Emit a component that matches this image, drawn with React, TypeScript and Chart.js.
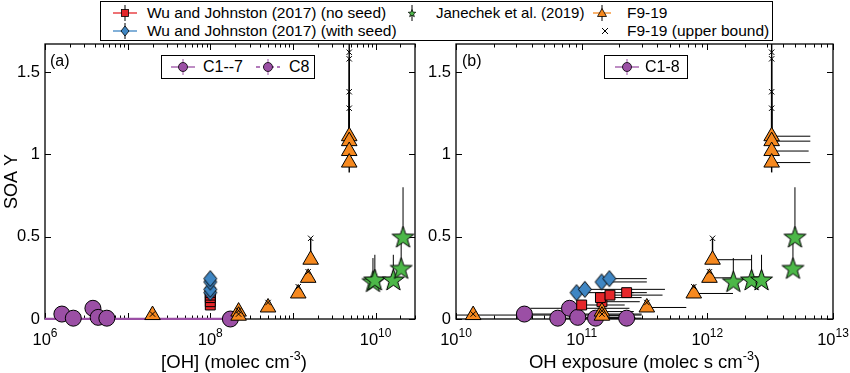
import React, { useEffect, useRef } from 'react';
import { Chart, registerables } from 'chart.js';
Chart.register(...registerables);

// ---------------- DATA ----------------
// Panel (a): x = [OH] (molec cm^-3); Panel (b): x = OH exposure (molec s cm^-3)
// C1-7 (purple circles)
const C17_OH = [1.6e6, 2.2e6, 3.8e6, 4.4e6, 5.6e6];
const C17_Y = [0.03, 0.005, 0.065, 0.01, 0.005];
const C17_YHI = [0.03, 0.005, 0.105, 0.01, 0.005];
// C8
const C8_OH = [1.75e8];
const C8_Y = [0];
const C8_OH_LO = [1e5];
// C1-8 in panel (b)
const C18_EXP = [3.5e10, 6.45e10, 8.0e10, 9.3e10, 1.29e11, 2.28e11];
const C18_Y = [0.03, 0.005, 0.065, 0.01, 0.005, 0.005];
const C18_EXP_LO = [3.5e10, 6.45e10, 3.9e10, 9.3e10, 1.29e11, 2.28e11];
const C18_EXP_HI = [3.0e11, 2.3e11, 2.4e11, 2.5e11, 2.7e11, 3.0e11];
// Wu and Johnston (2017) (no seed)
const WUNS_OH = [1e8, 1e8, 1e8, 1e8, 1e8];
const WUNS_EXP = [1.0e11, 1.45e11, 1.41e11, 1.68e11, 2.28e11];
const WUNS_Y = [0.085, 0.105, 0.13, 0.145, 0.16];
const WUNS_EXP_HI = [2.2e11, 2.9e11, 3.0e11, 4.4e11, 3.3e11];
// Wu and Johnston (2017) (with seed)
const WUS_OH = [1e8, 1e8, 1e8, 1e8];
const WUS_EXP = [9.1e10, 1.06e11, 1.44e11, 1.66e11];
const WUS_Y = [0.16, 0.18, 0.225, 0.245];
const WUS_EXP_HI = [2.6e11, 4.6e11, 3.3e11, 3.3e11];
// F9-19 (orange triangles) and upper bounds (x)
const F_OH = [2.0e7, 2.2e8, 2.2e8, 5.0e8, 1.16e9, 1.53e9, 1.64e9, 4.8e9, 4.8e9, 4.8e9, 4.8e9];
const F_EXP = [1.37e10, 1.45e11, 1.45e11, 3.3e11, 7.8e11, 1.04e12, 1.1e12, 3.25e12, 3.25e12, 3.25e12, 3.25e12];
const F_Y = [0.024, 0.045, 0.02, 0.07, 0.155, 0.25, 0.36, 1.11, 1.08, 1.02, 0.95];
const F_UB = [0.03, 0.05, 0.03, 0.1, 0.196, 0.287, 0.49, 1.62, 1.58, 1.38, 1.28];
const F_YLO = [0.024, 0.045, 0.02, 0.07, 0.155, 0.25, 0.36, 1.11, 1.08, 1.02, 0.89];
const F_YHI = [0.03, 0.05, 0.03, 0.1, 0.196, 0.287, 0.49, 1.8, 1.58, 1.38, 1.28];
const F_EXP_LO = [1.0e10, 1.45e11, 1.45e11, 3.3e11, 7.8e11, 1.04e12, 1.1e12, 3.25e12, 3.25e12, 3.25e12, 3.25e12];
const F_EXP_HI = [3.0e11, 2.6e11, 2.4e11, 6.8e11, 1.6e12, 1.55e12, 2.25e12, 6.6e12, 6.6e12, 6.4e12, 6.6e12];
// Janechek et al. (2019) (green stars)
const J_OH = [9.3e9, 9.8e9, 1.64e10, 2.04e10, 2.15e10];
const J_EXP = [1.61e12, 2.25e12, 2.7e12, 4.8e12, 4.98e12];
const J_Y = [0.23, 0.24, 0.24, 0.31, 0.5];
const J_YHI = [0.37, 0.39, 0.39, 0.5, 0.8];

// Axes
const Y_TICKS = [0, 0.5, 1, 1.5];
const Y_MAX = 1.67;
const XA_TICKS = [1e6, 1e8, 1e10];
const XA_EXPS = ['6', '8', '10'];
const XB_TICKS = [1e10, 1e11, 1e12, 1e13];
const XB_EXPS = ['10', '11', '12', '13'];

// ---------------- STYLE ----------------
const PURPLE = '#9B4FA5';
const RED = '#E5262A';
const BLUE = '#3F86C3';
const ORANGE = '#F6891F';
const GREEN = '#4CB748';
const FONT = '"Liberation Sans", Arial, Helvetica, sans-serif';

type Seg = { x0: number; y0: number; x1: number; y1: number; color: string; w: number };

function vBars(xs: number[], lo: number[], hi: number[], color = '#000', w = 1): Seg[] {
  return xs.map((x, i) => ({ x0: x, y0: lo[i], x1: x, y1: hi[i], color, w }));
}
function hBars(ys: number[], lo: number[], hi: number[], color = '#000', w = 1): Seg[] {
  return ys.map((y, i) => ({ x0: lo[i], y0: y, x1: hi[i], y1: y, color, w }));
}
function pts(xs: number[], ys: number[]) {
  return xs.map((x, i) => ({ x, y: ys[i] }));
}

function makeStar(fill: string, R: number) {
  const c = document.createElement('canvas');
  const s = Math.ceil(2 * R + 4);
  c.width = s; c.height = s;
  const g = c.getContext('2d')!;
  const cx = s / 2, cy = s / 2 + R * 0.1;
  g.beginPath();
  for (let i = 0; i < 10; i++) {
    const r = i % 2 === 0 ? R : R * 0.4;
    const a = -Math.PI / 2 + (i * Math.PI) / 5;
    g.lineTo(cx + r * Math.cos(a), cy + r * Math.sin(a));
  }
  g.closePath();
  g.fillStyle = fill; g.fill();
  g.lineWidth = 1; g.strokeStyle = '#000'; g.stroke();
  return c;
}
function makeDiamond(fill: string, w: number, h: number) {
  const c = document.createElement('canvas');
  c.width = w + 3; c.height = h + 3;
  const g = c.getContext('2d')!;
  const cx = c.width / 2, cy = c.height / 2;
  g.beginPath();
  g.moveTo(cx, cy - h / 2); g.lineTo(cx + w / 2, cy); g.lineTo(cx, cy + h / 2); g.lineTo(cx - w / 2, cy);
  g.closePath();
  g.fillStyle = fill; g.fill();
  g.lineWidth = 1; g.strokeStyle = '#000'; g.stroke();
  return c;
}

const framePlugin = {
  id: 'frameBars',
  beforeDatasetsDraw(chart: any) {
    const { ctx, chartArea: a, scales } = chart;
    const x = scales.x, y = scales.y;
    ctx.save();
    ctx.strokeStyle = '#000';
    ctx.lineWidth = 1.3;
    ctx.strokeRect(a.left, a.top, a.right - a.left, a.bottom - a.top);
    ctx.beginPath();
    ctx.lineWidth = 1;
    const e0 = Math.floor(Math.log10(x.min)), e1 = Math.ceil(Math.log10(x.max));
    for (let e = e0; e <= e1; e++) {
      for (let m = 1; m <= 9; m++) {
        const v = m * Math.pow(10, e);
        if (v < x.min * 0.999 || v > x.max * 1.001) continue;
        const px = Math.round(x.getPixelForValue(v)) + 0.5;
        const L = m === 1 ? 6 : 3.5;
        ctx.moveTo(px, a.bottom); ctx.lineTo(px, a.bottom - L);
        ctx.moveTo(px, a.top); ctx.lineTo(px, a.top + L);
      }
    }
    for (const v of Y_TICKS) {
      const py = Math.round(y.getPixelForValue(v)) + 0.5;
      ctx.moveTo(a.left, py); ctx.lineTo(a.left + 6, py);
      ctx.moveTo(a.right, py); ctx.lineTo(a.right - 6, py);
    }
    ctx.stroke();
    ctx.beginPath();
    ctx.rect(a.left, a.top, a.right - a.left, a.bottom - a.top + 1);
    ctx.clip();
    const dsets = chart.data.datasets;
    for (let d = dsets.length - 1; d >= 0; d--) {
      const segs: Seg[] = dsets[d].bars || [];
      for (const s of segs) {
        ctx.beginPath();
        ctx.strokeStyle = s.color;
        ctx.lineWidth = s.w;
        ctx.moveTo(x.getPixelForValue(s.x0), y.getPixelForValue(s.y0));
        ctx.lineTo(x.getPixelForValue(s.x1), y.getPixelForValue(s.y1));
        ctx.stroke();
      }
    }
    ctx.restore();
  },
  afterDraw(chart: any) {
    // power-of-ten tick labels with raised exponents
    const { ctx, chartArea: a, scales } = chart;
    const x = scales.x;
    const cfg = chart.options.plugins.supTicks;
    ctx.save();
    ctx.fillStyle = '#000';
    ctx.textBaseline = 'alphabetic';
    ctx.textAlign = 'left';
    cfg.values.forEach((v: number, i: number) => {
      const px = x.getPixelForValue(v);
      ctx.font = `16.5px ${FONT}`;
      const w1 = ctx.measureText('10').width;
      ctx.font = `12px ${FONT}`;
      const w2 = ctx.measureText(cfg.exps[i]).width;
      const left = px - (w1 + w2) / 2;
      ctx.font = `16.5px ${FONT}`;
      ctx.fillText('10', left, a.bottom + 26);
      ctx.font = `12px ${FONT}`;
      ctx.fillText(cfg.exps[i], left + w1, a.bottom + 18);
    });
    ctx.restore();
  },
};

function baseOptions(xMin: number, xMax: number, xTicks: number[], xExps: string[], yWidth: number, showYTitle: boolean, padRight: number) {
  return {
    responsive: false,
    animation: false as const,
    events: [] as any[],
    layout: { padding: { top: 44, right: padRight, left: 0, bottom: 0 } },
    plugins: { legend: { display: false }, tooltip: { enabled: false }, supTicks: { values: xTicks, exps: xExps } },
    scales: {
      x: {
        type: 'logarithmic' as const,
        min: xMin,
        max: xMax,
        bounds: 'data' as const,
        grid: { display: false, drawTicks: false },
        border: { display: false },
        afterBuildTicks: (s: any) => { s.ticks = xTicks.map((v) => ({ value: v })); },
        afterFit: (s: any) => { s.height = 54; },
        ticks: { display: false },
        title: { display: false },
      },
      y: {
        type: 'linear' as const,
        min: 0,
        max: Y_MAX,
        bounds: 'data' as const,
        grid: { display: false, drawTicks: false },
        border: { display: false },
        afterBuildTicks: (s: any) => { s.ticks = Y_TICKS.map((v) => ({ value: v })); },
        afterFit: (s: any) => { s.width = yWidth; },
        ticks: { padding: 5, color: '#000', font: { size: 16.5, family: FONT }, callback: (v: any) => String(v) },
        title: { display: showYTitle, text: 'SOA Y', color: '#000', font: { size: 18, family: FONT }, padding: { top: 1, bottom: 0 } },
      },
    },
  };
}

function LegendIcon({ kind, color, dashed }: { kind: string; color?: string; dashed?: boolean }) {
  const W = 26, H = 18, cx = 13, cy = 9;
  let mark: any = null;
  if (kind === 'sq') mark = <rect x={cx - 3.5} y={cy - 3.5} width={7} height={7} fill={color} stroke="#000" strokeWidth={0.8} />;
  if (kind === 'dia') mark = <polygon points={`${cx},${cy - 5} ${cx + 4},${cy} ${cx},${cy + 5} ${cx - 4},${cy}`} fill={color} stroke="#000" strokeWidth={0.8} />;
  if (kind === 'tri') mark = <polygon points={`${cx},${cy - 4.5} ${cx + 4.5},${cy + 3.5} ${cx - 4.5},${cy + 3.5}`} fill={color} stroke="#000" strokeWidth={0.8} />;
  if (kind === 'circ') mark = <circle cx={cx} cy={cy} r={4.5} fill={color} stroke="#000" strokeWidth={0.8} />;
  if (kind === 'star') {
    let p = '';
    for (let i = 0; i < 10; i++) {
      const r = i % 2 === 0 ? 4 : 1.7;
      const a = -Math.PI / 2 + (i * Math.PI) / 5;
      p += `${cx + r * Math.cos(a)},${cy + 0.5 + r * Math.sin(a)} `;
    }
    mark = <polygon points={p} fill={color} stroke="#000" strokeWidth={0.7} />;
  }
  if (kind === 'x') {
    return (
      <svg width={W} height={H} style={{ display: 'block' }}>
        <path d={`M${cx - 3},${cy - 3} L${cx + 3},${cy + 3} M${cx + 3},${cy - 3} L${cx - 3},${cy + 3}`} stroke="#000" strokeWidth={1} />
      </svg>
    );
  }
  const hLine = kind !== 'star';
  const half = kind === 'tri' ? 9 : 12;
  return (
    <svg width={W} height={H} style={{ display: 'block' }}>
      {hLine && <line x1={cx - half} y1={cy} x2={cx + half} y2={cy} stroke={color} strokeWidth={1.3} strokeDasharray={dashed ? '4 3' : undefined} />}
      <line x1={cx} y1={1} x2={cx} y2={H - 1} stroke={kind === 'circ' ? color : '#000'} strokeWidth={1} />
      {mark}
    </svg>
  );
}

const legendText: React.CSSProperties = { position: 'absolute', fontSize: 15.5, lineHeight: '18px', whiteSpace: 'nowrap', color: '#000' };
const supStyle: React.CSSProperties = { fontSize: 12.5, position: 'relative', top: -8, verticalAlign: 'baseline', lineHeight: 0 };

export default function App() {
  const refA = useRef<HTMLCanvasElement>(null);
  const refB = useRef<HTMLCanvasElement>(null);

  useEffect(() => {
    document.body.style.margin = '0';
    const star = makeStar(GREEN, 11.5);
    const dia = makeDiamond(BLUE, 13, 16);
    const common = (extra: any) => ({ showLine: false, borderColor: '#000', borderWidth: 1, clip: false, ...extra });

    const dsA = [
      common({ label: 'F9-19 (upper bound)', data: pts(F_OH, F_UB), pointStyle: 'crossRot', pointRadius: 3.8, borderWidth: 1, clip: 6 }),
      common({ label: 'Janechek et al. (2019)', data: pts(J_OH, J_Y), pointStyle: star, bars: vBars(J_OH, J_Y, J_YHI) }),
      common({ label: 'F9-19', data: pts(F_OH, F_Y), pointStyle: 'triangle', pointRadius: 9, backgroundColor: ORANGE, bars: vBars(F_OH, F_YLO, F_YHI, '#000', 1.4) }),
      common({ label: 'Wu and Johnston (2017) (with seed)', data: pts(WUS_OH, WUS_Y), pointStyle: dia }),
      common({ label: 'Wu and Johnston (2017) (no seed)', data: pts(WUNS_OH, WUNS_Y), pointStyle: 'rect', pointRadius: 7, backgroundColor: RED }),
      common({ label: 'C8', data: pts(C8_OH, C8_Y), pointStyle: 'circle', pointRadius: 8, backgroundColor: PURPLE, bars: hBars(C8_Y, C8_OH_LO, C8_OH, PURPLE, 2.4) }),
      common({ label: 'C1--7', data: pts(C17_OH, C17_Y), pointStyle: 'circle', pointRadius: 8, backgroundColor: PURPLE, bars: vBars(C17_OH, C17_Y, C17_YHI, '#333', 1) }),
    ];
    const dsB = [
      common({ label: 'F9-19 (upper bound)', data: pts(F_EXP, F_UB), pointStyle: 'crossRot', pointRadius: 3.8, borderWidth: 1, clip: 6 }),
      common({ label: 'Janechek et al. (2019)', data: pts(J_EXP, J_Y), pointStyle: star, bars: vBars(J_EXP, J_Y, J_YHI) }),
      common({ label: 'F9-19', data: pts(F_EXP, F_Y), pointStyle: 'triangle', pointRadius: 9, backgroundColor: ORANGE, bars: [...vBars(F_EXP, F_YLO, F_YHI, '#000', 1.4), ...hBars(F_Y, F_EXP_LO, F_EXP_HI)] }),
      common({ label: 'Wu and Johnston (2017) (with seed)', data: pts(WUS_EXP, WUS_Y), pointStyle: dia, bars: hBars(WUS_Y, WUS_EXP, WUS_EXP_HI) }),
      common({ label: 'Wu and Johnston (2017) (no seed)', data: pts(WUNS_EXP, WUNS_Y), pointStyle: 'rect', pointRadius: 7, backgroundColor: RED, bars: hBars(WUNS_Y, WUNS_EXP, WUNS_EXP_HI) }),
      common({ label: 'C1-8', data: pts(C18_EXP, C18_Y), pointStyle: 'circle', pointRadius: 8, backgroundColor: PURPLE, bars: hBars(C18_Y, C18_EXP_LO, C18_EXP_HI) }),
    ];

    const chartA = new Chart(refA.current!, {
      type: 'scatter',
      data: { datasets: dsA as any },
      options: baseOptions(1e6, 3e10, XA_TICKS, XA_EXPS, 45, true, 2) as any,
      plugins: [framePlugin],
    });
    const chartB = new Chart(refB.current!, {
      type: 'scatter',
      data: { datasets: dsB as any },
      options: baseOptions(1e10, 1e13, XB_TICKS, XB_EXPS, 31, false, 17) as any,
      plugins: [framePlugin],
    });
    return () => { chartA.destroy(); chartB.destroy(); };
  }, []);

  const box: React.CSSProperties = { position: 'absolute', border: '1.3px solid #000', background: '#fff', boxSizing: 'border-box' };
  const title: React.CSSProperties = { position: 'absolute', top: 351, fontSize: 18.5, lineHeight: '22px', textAlign: 'center', whiteSpace: 'nowrap' };

  return (
    <div style={{ position: 'fixed', left: 0, top: 0, width: 850, height: 373, background: '#fff', fontFamily: FONT, overflow: 'hidden' }}>
      <canvas ref={refA} width={425} height={373} style={{ position: 'absolute', left: 0, top: 0 }} />
      <canvas ref={refB} width={425} height={373} style={{ position: 'absolute', left: 425, top: 0 }} />

      {/* axis titles */}
      <div style={{ ...title, left: 45, width: 378 }}>[OH] (molec cm<span style={supStyle}>-3</span>)</div>
      <div style={{ ...title, left: 456, width: 377 }}>OH exposure (molec s cm<span style={supStyle}>-3</span>)</div>

      {/* top legend */}
      <div style={{ ...box, left: 100, top: 1, width: 673, height: 40 }} />
      <div style={{ position: 'absolute', left: 112, top: 4 }}><LegendIcon kind="sq" color={RED} /></div>
      <div style={{ ...legendText, left: 147, top: 4 }}>Wu and Johnston (2017) (no seed)</div>
      <div style={{ position: 'absolute', left: 112, top: 22 }}><LegendIcon kind="dia" color={BLUE} /></div>
      <div style={{ ...legendText, left: 147, top: 22 }}>Wu and Johnston (2017) (with seed)</div>
      <div style={{ position: 'absolute', left: 399, top: 4 }}><LegendIcon kind="star" color={GREEN} /></div>
      <div style={{ ...legendText, left: 436, top: 4, fontSize: 15 }}>Janechek et al. (2019)</div>
      <div style={{ position: 'absolute', left: 589, top: 4 }}><LegendIcon kind="tri" color={ORANGE} /></div>
      <div style={{ ...legendText, left: 627, top: 4 }}>F9-19</div>
      <div style={{ position: 'absolute', left: 592, top: 22 }}><LegendIcon kind="x" /></div>
      <div style={{ ...legendText, left: 627, top: 22 }}>F9-19 (upper bound)</div>

      {/* panel (a) legend */}
      <div style={{ ...box, left: 161, top: 55, width: 154, height: 24 }} />
      <div style={{ position: 'absolute', left: 170, top: 58 }}><LegendIcon kind="circ" color={PURPLE} /></div>
      <div style={{ position: 'absolute', left: 203, top: 57, fontSize: 16, lineHeight: '20px' }}>C1--7</div>
      <div style={{ position: 'absolute', left: 255, top: 58 }}><LegendIcon kind="circ" color={PURPLE} dashed /></div>
      <div style={{ position: 'absolute', left: 289, top: 57, fontSize: 16, lineHeight: '20px' }}>C8</div>
      <div style={{ position: 'absolute', left: 50, top: 51, fontSize: 16, lineHeight: '20px' }}>(a)</div>

      {/* panel (b) legend */}
      <div style={{ ...box, left: 604, top: 55, width: 84, height: 24 }} />
      <div style={{ position: 'absolute', left: 614, top: 58 }}><LegendIcon kind="circ" color={PURPLE} /></div>
      <div style={{ position: 'absolute', left: 645, top: 57, fontSize: 16, lineHeight: '20px' }}>C1-8</div>
      <div style={{ position: 'absolute', left: 462, top: 51, fontSize: 16, lineHeight: '20px' }}>(b)</div>
    </div>
  );
}
